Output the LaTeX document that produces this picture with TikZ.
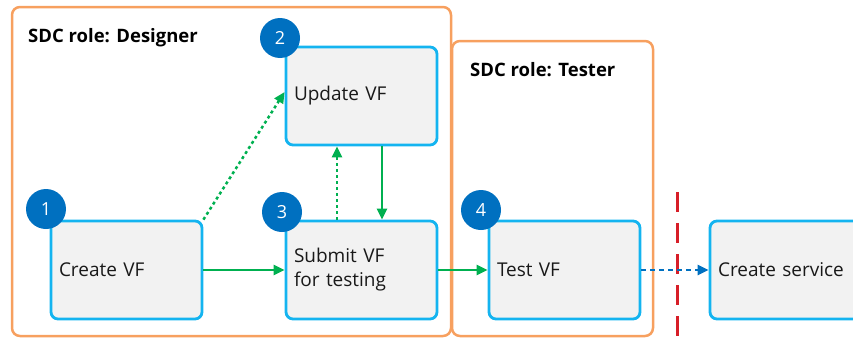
\documentclass[tikz,border=0pt]{standalone}
\usepackage{fontspec}
\setmainfont{Open Sans}
\usetikzlibrary{arrows.meta}
\definecolor{roleorange}{RGB}{247,160,95}
\definecolor{stepblue}{RGB}{20,180,240}
\definecolor{stepfill}{RGB}{242,242,242}
\definecolor{badgeblue}{RGB}{0,112,192}
\definecolor{flowgreen}{RGB}{0,176,80}
\definecolor{cutred}{RGB}{215,30,40}
\tikzset{
  rolebox/.style={draw=roleorange, line width=2.5pt, rounded corners=8pt},
  roletitle/.style={anchor=base west, font=\fontsize{18.5}{22}\selectfont\bfseries, inner sep=0pt},
  proc/.style={draw=stepblue, fill=stepfill, line width=2.8pt, rounded corners=7pt,
    minimum width=151pt, minimum height=98pt, text width=135pt, inner xsep=8pt,
    align=left, font=\fontsize{19}{24}\selectfont, text=black!90},
  badge/.style={circle, fill=badgeblue, minimum size=40pt, inner sep=0pt,
    text=white, font=\fontsize{18}{20}\selectfont},
  flow/.style={draw=flowgreen, line width=2.5pt, -{Triangle[length=11pt,width=10pt]}},
  flowdot/.style={flow, dash pattern=on 3pt off 3pt},
  handoff/.style={draw=badgeblue, line width=2.8pt, dash pattern=on 5pt off 4pt,
    -{Triangle[length=11pt,width=10pt]}},
  cutline/.style={draw=cutred, line width=3pt, dash pattern=on 20pt off 11pt}
}
\begin{document}
\begin{tikzpicture}[x=1pt,y=-1pt]
\useasboundingbox (0,0) rectangle (853,340);
% role frames
\draw[rolebox] (12,7) rectangle (451,336);
\draw[rolebox] (452,41) rectangle (653,336);
\node[roletitle] (tdesigner) at (28,42) {SDC role: Designer};
\node[roletitle] (ttester) at (470,76) {SDC role: Tester};
% process steps
\node[proc] (create) at (126.5,270) {Create VF};
\node[proc] (update) at (361.5,96) {Update VF};
\node[proc] (submit) at (361.5,270) {Submit VF\\for testing};
\node[proc] (test) at (564.5,270) {Test VF};
\node[proc] (service) at (785.5,270) {Create service};
% step numbers
\node[badge] (b1) at (46,209) {1};
\node[badge] (b2) at (280,38) {2};
\node[badge] (b3) at (282,212) {3};
\node[badge] (b4) at (481,210) {4};
% boundary marker
\coordinate (cuttop) at (677,192);
\coordinate (cutbot) at (677,345);
\draw[cutline] (cuttop) -- (cutbot);
% transitions
\draw[flow] (create.east) -- (submit.west);
\draw[flowdot] (create.north east) -- ([yshift=4pt]update.west);
\draw[flowdot] ([xshift=-24.5pt]submit.north) -- ([xshift=-24.5pt]update.south);
\draw[flow] ([xshift=20.5pt]update.south) -- ([xshift=20.5pt]submit.north);
\draw[flow] (submit.east) -- (test.west);
\draw[handoff] (test.east) -- (service.west);
\end{tikzpicture}
\end{document}
